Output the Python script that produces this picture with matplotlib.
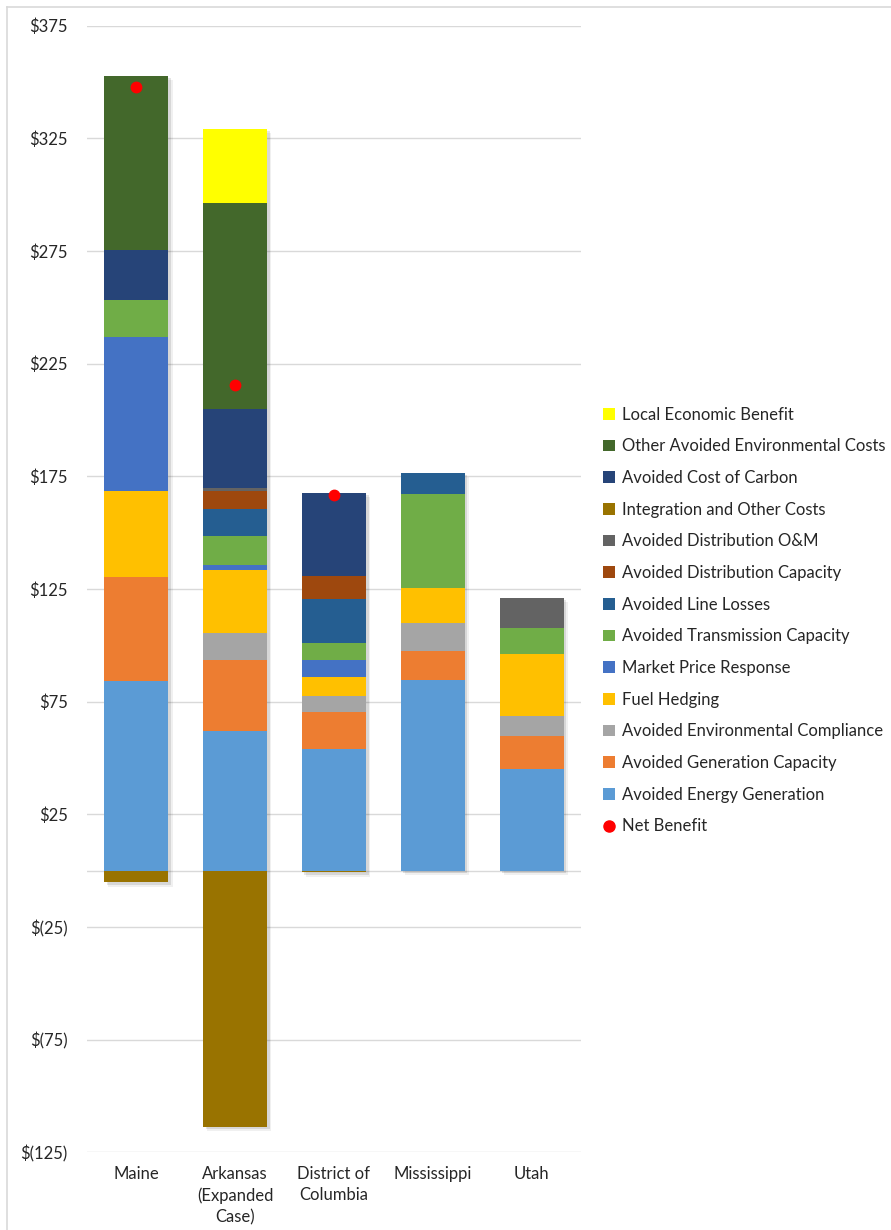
import numpy as np
import matplotlib
matplotlib.use("Agg")
import matplotlib.pyplot as plt
from matplotlib.patches import Patch
from matplotlib.lines import Line2D
from matplotlib.transforms import ScaledTranslation

plt.rcParams['font.family'] = ['Lato', 'DejaVu Sans']

states = ["Maine", "Arkansas\n(Expanded\nCase)", "District of\nColumbia", "Mississippi", "Utah"]

# stacking order, bottom to top (values in $/MWh)
energy_gen = [84.0, 62.1, 53.9, 84.8, 45.0]
gen_capacity = [46.3, 31.4, 16.7, 12.6, 14.8]
env_compliance = [0.0, 11.8, 7.1, 12.5, 9.0]
fuel_hedging = [38.2, 28.1, 8.2, 15.6, 27.5]
market_price = [68.3, 2.4, 7.4, 0.0, 0.0]
transmission = [16.6, 12.9, 7.9, 41.7, 11.5]
line_losses = [0.0, 11.7, 19.4, 9.4, 0.0]
dist_capacity = [0.0, 8.2, 10.2, 0.0, 0.0]
dist_om = [0.0, 1.1, 0.0, 0.0, 13.4]
integration = [-5.2, -113.6, -0.8, 0.0, 0.0]
carbon = [21.9, 35.1, 36.9, 0.0, 0.0]
other_env = [77.5, 91.5, 0.0, 0.0, 0.0]
local_econ = [0.0, 33.0, 0.0, 0.0, 0.0]
net_benefit = [347.6, 215.7, 166.7, np.nan, np.nan]

series = [
    ("Avoided Energy Generation", energy_gen, "#5B9BD5"),
    ("Avoided Generation Capacity", gen_capacity, "#ED7D31"),
    ("Avoided Environmental Compliance", env_compliance, "#A5A5A5"),
    ("Fuel Hedging", fuel_hedging, "#FFC000"),
    ("Market Price Response", market_price, "#4472C4"),
    ("Avoided Transmission Capacity", transmission, "#70AD47"),
    ("Avoided Line Losses", line_losses, "#255E91"),
    ("Avoided Distribution Capacity", dist_capacity, "#9E480E"),
    ("Avoided Distribution O&M", dist_om, "#636363"),
    ("Integration and Other Costs", integration, "#997300"),
    ("Avoided Cost of Carbon", carbon, "#264478"),
    ("Other Avoided Environmental Costs", other_env, "#43682B"),
    ("Local Economic Benefit", local_econ, "#FFFF00"),
]

fig = plt.figure(figsize=(8.91, 12.30), dpi=100)
ax = fig.add_axes([0.0976, 0.0632, 0.5545, 0.9159])

x = np.arange(len(states))
width = 0.65

pos_total = np.zeros(len(states))
neg_total = np.zeros(len(states))
for name, vals, col in series:
    v = np.array(vals)
    pos_total += np.where(v > 0, v, 0)
    neg_total += np.where(v < 0, v, 0)

# soft shadow behind each bar (two layers to fake a blur)
for off, a in [(3.0, 0.06), (1.8, 0.10)]:
    shadow = ax.transData + ScaledTranslation(off / 72, -off / 72, fig.dpi_scale_trans)
    ax.bar(x, pos_total - neg_total, width, bottom=neg_total, color="#000000",
           alpha=a, transform=shadow, zorder=2, linewidth=0)

pos_bottom = np.zeros(len(states))
neg_bottom = np.zeros(len(states))
for name, vals, col in series:
    v = np.array(vals)
    bottom = np.where(v >= 0, pos_bottom, neg_bottom)
    ax.bar(x, v, width, bottom=bottom, color=col, zorder=3, linewidth=0)
    pos_bottom += np.where(v > 0, v, 0)
    neg_bottom += np.where(v < 0, v, 0)

ax.plot(x, net_benefit, "o", color="#FF0000", markersize=7.5, zorder=4)

ax.set_xlim(-0.5, len(states) - 0.5)
ax.set_ylim(-125, 375)
yt = np.arange(-125, 376, 50)
ax.set_yticks(yt)
ax.set_yticklabels(["$%d" % t if t >= 0 else "$(%d)" % -t for t in yt])
ax.set_xticks(x)
ax.set_xticklabels(states, linespacing=1.4)
ax.tick_params(axis="both", length=0, labelsize=12, colors="#262626")
ax.tick_params(axis="y", pad=14)
ax.tick_params(axis="x", pad=10)
ax.grid(axis="y", color="#D9D9D9", linewidth=1, zorder=0)
ax.axhline(0, color="#D9D9D9", linewidth=1, zorder=1)
for s in ax.spines.values():
    s.set_visible(False)

handles = [Patch(facecolor=col, label=name) for name, vals, col in reversed(series)]
handles.append(Line2D([], [], marker="o", linestyle="none", color="#FF0000",
                      markersize=8, label="Net Benefit"))
fig.legend(handles=handles, loc="center left", bbox_to_anchor=(0.66, 0.4955),
           frameon=False, fontsize=12, handlelength=0.7, handleheight=0.7,
           handletextpad=0.45, labelspacing=0.94, labelcolor="#262626")

# chart area border (top and left edges visible)
fig.add_artist(Line2D([7 / 891, 1], [1 - 6.5 / 1230, 1 - 6.5 / 1230],
                      transform=fig.transFigure, color="#D9D9D9", linewidth=1.2))
fig.add_artist(Line2D([7 / 891, 7 / 891], [0, 1 - 6.5 / 1230],
                      transform=fig.transFigure, color="#D9D9D9", linewidth=1.2))

fig.savefig("out.png", dpi=100)
